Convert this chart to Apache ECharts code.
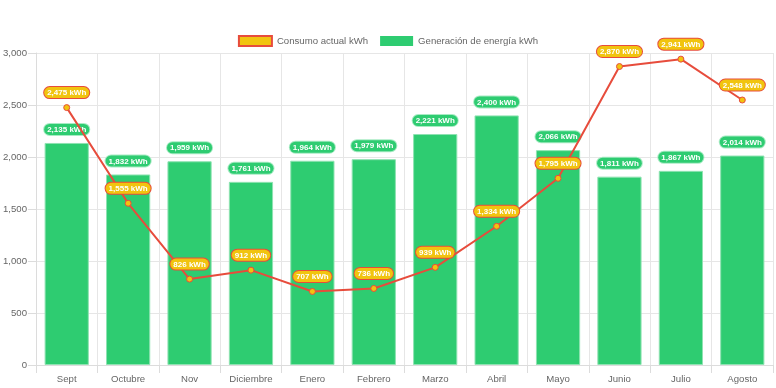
<!DOCTYPE html>
<html><head><meta charset="utf-8">
<script src="https://cdn.jsdelivr.net/npm/echarts@6/dist/echarts.min.js"></script>
<style>html,body{margin:0;padding:0;background:#fff}#c{width:776px;height:388px}</style>
</head><body><div id="c"></div>
<script>
const categories = ['Sept','Octubre','Nov','Diciembre','Enero','Febrero','Marzo','Abril','Mayo','Junio','Julio','Agosto'];
const consumo = [2475, 1555, 826, 912, 707, 736, 939, 1334, 1795, 2870, 2941, 2548];
const generacion = [2135, 1832, 1959, 1761, 1964, 1979, 2221, 2400, 2066, 1811, 1867, 2014];
const yTicks = [0, 500, 1000, 1500, 2000, 2500, 3000];
const nameConsumo = 'Consumo actual kWh';
const nameGen = 'Generación de energía kWh';

const FONT = '"Liberation Sans", Arial, Helvetica, sans-serif';
const fmt = v => Number(v).toLocaleString('en-US');
const chart = echarts.init(document.getElementById('c'), null, {renderer:'canvas'});
chart.setOption({
  animation: false,
  textStyle: {fontFamily: FONT},
  legend: {
    top: 30, left: 'center', itemWidth: 33, itemHeight: 10, itemGap: 12,
    textStyle: {color: '#666', fontSize: 9.6, fontFamily: FONT},
    data: [
      {name: nameConsumo, icon: 'rect', itemStyle: {color: '#f1c40f', borderColor: '#e74c3c', borderWidth: 2}, lineStyle: {width: 0}},
      {name: nameGen, icon: 'rect', itemStyle: {color: '#2ecc71', borderWidth: 0}}
    ]
  },
  grid: {left: 35, right: 3, top: 53, bottom: 23, containLabel: false},
  xAxis: {
    type: 'category', data: categories, boundaryGap: true,
    axisLine: {show: true, lineStyle: {color: '#dcdcdc', width: 1}},
    axisTick: {show: true, length: 8, alignWithLabel: false, lineStyle: {color: '#dcdcdc'}},
    splitLine: {show: true, lineStyle: {color: '#e6e6e6', width: 1}},
    axisLabel: {color: '#666', fontSize: 9.6, margin: 9, fontFamily: FONT}
  },
  yAxis: {
    type: 'value', min: yTicks[0], max: yTicks[yTicks.length-1], interval: yTicks[1]-yTicks[0],
    axisLine: {show: true, lineStyle: {color: '#dcdcdc', width: 1}},
    axisTick: {show: true, length: 8, lineStyle: {color: '#dcdcdc'}},
    splitLine: {show: true, lineStyle: {color: '#e6e6e6', width: 1}},
    axisLabel: {color: '#666', fontSize: 9.6, margin: 9, fontFamily: FONT, formatter: v => fmt(v)}
  },
  series: [
    {
      name: nameConsumo, type: 'line', data: consumo, z: 5,
      lineStyle: {color: '#e74c3c', width: 2},
      itemStyle: {color: '#f1c40f', borderColor: '#e74c3c', borderWidth: 1},
      symbol: 'circle', symbolSize: 6, showAllSymbol: true,
      label: {
        show: true, position: 'top', distance: 6,
        formatter: p => fmt(p.value) + ' kWh',
        color: '#fff', fontWeight: 'bold', fontSize: 8, fontFamily: FONT,
        backgroundColor: '#f1c40f', borderColor: '#e74c3c', borderWidth: 1,
        borderRadius: 6, padding: [2, 3, 1, 3]
      }
    },
    {
      name: nameGen, type: 'bar', data: generacion, barWidth: '72%', z: 2,
      itemStyle: {color: '#2ecc71', borderColor: '#8fe3b2', borderWidth: 1},
      label: {
        show: true, position: 'top', distance: 8,
        formatter: p => fmt(p.value) + ' kWh',
        color: '#fff', fontWeight: 'bold', fontSize: 8, fontFamily: FONT,
        backgroundColor: '#2ecc71', borderColor: '#a8ebc4', borderWidth: 1,
        borderRadius: 6, padding: [2, 3, 1, 3]
      }
    }
  ]
});
</script></body></html>
